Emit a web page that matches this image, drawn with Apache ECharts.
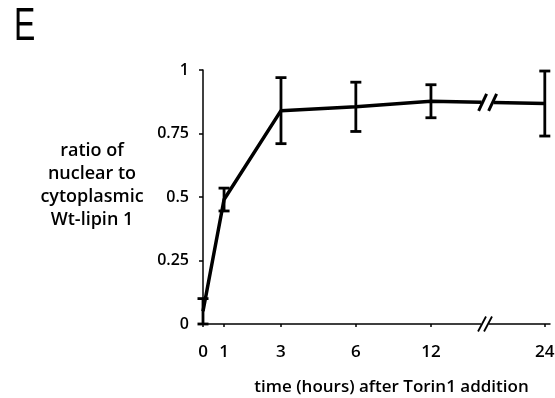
<!DOCTYPE html>
<html>
<head>
<meta charset="utf-8">
<script src="https://cdn.jsdelivr.net/npm/echarts@6/dist/echarts.min.js"></script>
<style>
  html, body { margin: 0; padding: 0; background: #fff; }
  #chart { width: 555px; height: 398px; }
</style>
</head>
<body>
<div id="chart"></div>
<script>
// time points (hours) and where they sit on the broken x axis
var hours = [0, 1, 3, 6, 12, 24];
var xPos = [0, 0.81, 3, 5.88, 8.77, 13.15];
// mean ratio and error (+/-)
var means = [0.05, 0.49, 0.84, 0.855, 0.877, 0.868];
var errs = [0.05, 0.045, 0.13, 0.097, 0.065, 0.128];
var xBreak = 10.85;

var font = "'Open Sans', sans-serif";
var ink = "#000";

var lineData = xPos.map(function (x, i) { return [x, means[i]]; });
var errData = xPos.map(function (x, i) {
  return [x, Math.max(0, means[i] - errs[i]), means[i] + errs[i]];
});

var chart = echarts.init(document.getElementById("chart"));

var option = {
  backgroundColor: "#fff",
  animation: false,
  grid: { left: 203, right: 5, top: 70, bottom: 74, outerBoundsMode: "none", containLabel: false },
  xAxis: {
    type: "value",
    min: 0,
    max: 13.35,
    splitLine: { show: false },
    axisLine: { lineStyle: { color: ink, width: 1.5 } },
    axisTick: { customValues: xPos, length: 3, lineStyle: { color: ink, width: 1.5 } },
    axisLabel: {
      customValues: xPos,
      margin: 20,
      color: ink,
      fontFamily: font,
      fontWeight: 600,
      fontSize: 17,
      formatter: function (v) {
        var i = xPos.indexOf(v);
        return i >= 0 ? String(hours[i]) : "";
      },
    },
    name: "time (hours) after Torin1 addition",
    nameLocation: "middle",
    nameGap: 55,
    nameTextStyle: { color: ink, fontFamily: font, fontWeight: 600, fontSize: 17, padding: [0, 0, 0, 30] },
  },
  yAxis: {
    type: "value",
    min: 0,
    max: 1,
    interval: 0.25,
    splitLine: { show: false },
    axisLine: { show: true, lineStyle: { color: ink, width: 1.5 } },
    axisTick: { show: true, length: 4, lineStyle: { color: ink, width: 1.5 } },
    axisLabel: {
      margin: 14,
      color: ink,
      fontFamily: font,
      fontWeight: 600,
      fontSize: 16,
      formatter: function (v) { return String(v); },
    },
  },
  series: [
    {
      name: "ratio",
      type: "line",
      data: lineData,
      symbol: "none",
      lineStyle: { color: ink, width: 3.5 },
      z: 3,
    },
    {
      name: "error",
      type: "custom",
      data: errData,
      z: 4,
      renderItem: function (params, api) {
        var x = api.value(0);
        var top = api.coord([x, api.value(2)]);
        var bot = api.coord([x, api.value(1)]);
        var w = 5.5;
        var st = { stroke: ink, lineWidth: 2.8 };
        return {
          type: "group",
          children: [
            { type: "line", shape: { x1: top[0], y1: top[1], x2: bot[0], y2: bot[1] }, style: st },
            { type: "line", shape: { x1: top[0] - w, y1: top[1], x2: top[0] + w, y2: top[1] }, style: st },
            { type: "line", shape: { x1: bot[0] - w, y1: bot[1], x2: bot[0] + w, y2: bot[1] }, style: st },
          ],
        };
      },
    },
  ],
};

chart.setOption(option);

// break marks on the line and on the x axis
function breakMark(cx, cy, gap, h, lw) {
  var st = { stroke: ink, lineWidth: lw };
  return [
    { type: "rect", shape: { x: cx - gap / 2 - 1, y: cy - 3, width: gap + 2, height: 6 }, style: { fill: "#fff" }, z: 10 },
    { type: "line", shape: { x1: cx - gap / 2 - 4, y1: cy + h / 2, x2: cx - gap / 2 + 4, y2: cy - h / 2 }, style: st, z: 11 },
    { type: "line", shape: { x1: cx + gap / 2 - 4, y1: cy + h / 2, x2: cx + gap / 2 + 4, y2: cy - h / 2 }, style: st, z: 11 },
  ];
}
var yLine = means[4] + (means[5] - means[4]) * (xBreak - xPos[4]) / (xPos[5] - xPos[4]);
var pLine = chart.convertToPixel({ gridIndex: 0 }, [xBreak + 0.1, yLine]);
var pAxis = chart.convertToPixel({ gridIndex: 0 }, [xBreak, 0]);

var graphics = [
  {
    type: "text",
    x: 14,
    y: 4,
    scaleX: 0.68,
    style: { text: "E", fontFamily: "'Liberation Sans', Arial, sans-serif", fontSize: 47, fill: ink },
  },
  {
    type: "text",
    x: 92,
    y: 185,
    style: {
      text: "ratio of\nnuclear to\ncytoplasmic\nWt-lipin 1",
      fontFamily: font,
      fontWeight: 600,
      fontSize: 18,
      lineHeight: 23,
      fill: ink,
      align: "center",
      verticalAlign: "middle",
    },
  },
].concat(breakMark(pLine[0], pLine[1], 10, 17, 3), breakMark(pAxis[0], pAxis[1], 6, 15, 1.8));

chart.setOption({ graphic: graphics });
</script>
</body>
</html>
